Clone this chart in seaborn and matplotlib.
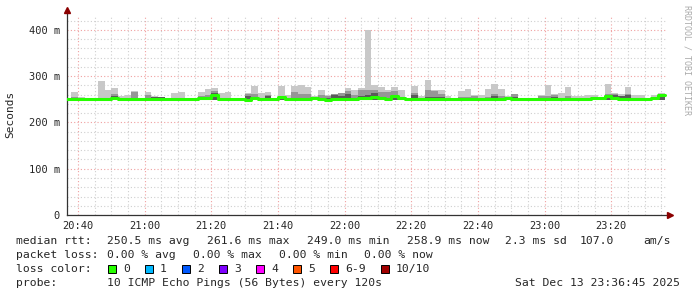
import numpy as np
import pandas as pd
import matplotlib
matplotlib.use("Agg")
import matplotlib.pyplot as plt
import matplotlib.dates as mdates
from matplotlib.patches import Rectangle
import seaborn as sns

# ---------------- data (ms) ----------------
bin_times = pd.date_range("2025-12-13 20:36", periods=90, freq="2min")
rtt_min = [249.0] * 90
rtt_max = [252, 266, 255, 251, 251, 290, 270, 275, 257, 260,
           268, 251, 266, 257, 256, 251, 264, 265, 251, 251,
           266, 272, 275, 264, 266, 254, 251, 263, 278, 264,
           265, 253, 278, 259, 278, 281, 277, 258, 271, 260,
           262, 264, 275, 271, 275, 400, 280, 276, 270, 277,
           270, 251, 279, 257, 291, 271, 271, 257, 254, 269,
           273, 259, 259, 272, 283, 272, 257, 262, 251, 253,
           253, 259, 281, 262, 263, 277, 257, 257, 259, 259,
           251, 283, 264, 261, 277, 260, 260, 251, 260, 263]
rtt_mid = [251, 255, 252, 250, 250, 252, 252, 262, 251, 252,
           267, 250, 259, 256, 255, 250, 252, 252, 250, 250,
           257, 260, 268, 253, 252, 251, 250, 261, 262, 252,
           260, 251, 258, 251, 265, 262, 261, 252, 260, 258,
           262, 264, 269, 260, 271, 270, 270, 267, 265, 268,
           255, 250, 264, 251, 270, 268, 262, 251, 251, 255,
           256, 258, 253, 256, 262, 258, 256, 262, 250, 251,
           251, 257, 258, 260, 253, 258, 251, 251, 252, 253,
           250, 262, 262, 256, 262, 253, 253, 250, 254, 262]
rtt_dark = [250, 251, 250, 250, 250, 250, 250, 257, 250, 250,
            252, 250, 252, 255, 255, 250, 250, 250, 250, 250,
            252, 252, 264, 250, 250, 250, 250, 257, 256, 250,
            257, 250, 256, 250, 254, 254, 253, 250, 252, 254,
            260, 258, 262, 254, 258, 259, 264, 256, 254, 260,
            252, 250, 260, 250, 256, 256, 256, 250, 250, 251,
            251, 252, 250, 252, 258, 254, 252, 256, 250, 250,
            250, 253, 252, 255, 251, 252, 250, 250, 251, 251,
            250, 257, 259, 258, 259, 251, 251, 250, 255, 258]
rtt_median = [250, 250, 250, 250, 250, 250, 250, 254, 250, 250,
              250, 250, 250, 250, 250, 250, 250, 250, 250, 251,
              253, 253, 259, 250, 250, 250, 250, 249, 254, 250,
              250, 250, 256, 250, 250, 250, 250, 252, 250, 249,
              250, 250, 250, 250, 253, 252, 256, 252, 250, 257,
              253, 250, 250, 250, 250, 250, 250, 250, 250, 250,
              250, 250, 250, 250, 250, 250, 252, 250, 250, 250,
              250, 250, 250, 250, 250, 250, 250, 250, 250, 252,
              252, 257, 253, 250, 250, 250, 250, 250, 252, 259]

y_ticks = [0, 100, 200, 300, 400]
y_tick_labels = ["0", "100 m", "200 m", "300 m", "400 m"]

legend_rows = [
    ("median rtt:", [(107, "250.5 ms avg"), (207, "261.6 ms max"), (307, "249.0 ms min"),
                     (407, "258.9 ms now"), (505, "2.3 ms sd"), (580, "107.0"), (643, "am/s")]),
    ("packet loss:", [(107, "0.00 % avg"), (193, "0.00 % max"), (279, "0.00 % min"),
                      (364, "0.00 % now")]),
    ("loss color:", []),
    ("probe:", [(107, "10 ICMP Echo Pings (56 Bytes) every 120s")]),
]
loss_labels = ["0", "1", "2", "3", "4", "5", "6-9", "10/10"]
loss_colors = ["#26ff00", "#00b8ff", "#0059ff", "#7e00ff", "#ff00ff", "#ff5500", "#ff0000", "#a10000"]
loss_box_x = [108, 145, 182, 219, 256, 293, 330, 381]
stamp = "Sat Dec 13 23:36:45 2025"

# ---------------- figure ----------------
sns.set_style("white")
plt.rcParams["font.family"] = ["DejaVu Sans Mono", "DejaVu Sans"]

W, H = 697, 297
fig = plt.figure(figsize=(W / 100, H / 100), dpi=100)
ax = fig.add_axes([67 / W, (H - 215) / H, 600 / W, 200 / H])
ax.set_facecolor("white")

df = pd.DataFrame({"time": bin_times, "min": rtt_min, "max": rtt_max,
                   "mid": rtt_mid, "dark": rtt_dark, "median": rtt_median})
width = 2 / 1440.0
for col, colr in [("max", "#c8c8c8"), ("mid", "#969696"), ("dark", "#5a5a5a")]:
    ax.bar(df["time"], df[col] - df["min"], bottom=df["min"], width=width,
           align="edge", color=colr, linewidth=0, zorder=2)

end_time = bin_times[-1] + pd.Timedelta(minutes=2)
line_df = pd.concat([df[["time", "median"]],
                     pd.DataFrame({"time": [end_time], "median": [rtt_median[-1]]})],
                    ignore_index=True)
sns.lineplot(data=line_df, x="time", y="median", drawstyle="steps-post",
             color=loss_colors[0], linewidth=2.2, estimator=None, ax=ax, zorder=3)

t0 = pd.Timestamp("2025-12-13 20:36:45")
ax.set_xlim(t0, t0 + pd.Timedelta(hours=3))
ax.set_ylim(0, 200 / 0.4625)
ax.set_xlabel("")
ax.set_ylabel("")

ax.xaxis.set_major_locator(mdates.MinuteLocator(byminute=[0, 20, 40]))
ax.xaxis.set_minor_locator(mdates.MinuteLocator(byminute=range(0, 60, 5)))
ax.xaxis.set_major_formatter(mdates.DateFormatter("%H:%M"))
ax.set_yticks(y_ticks)
ax.set_yticklabels(y_tick_labels)
ax.set_yticks(np.arange(0, 440, 20), minor=True)

ax.set_axisbelow(True)
ax.grid(which="minor", color="#cfcfcf", linestyle=(0, (1, 2)), linewidth=0.8)
ax.grid(which="major", color="#f0a0a0", linestyle=(0, (1, 2)), linewidth=0.8)

for s in ["top", "right"]:
    ax.spines[s].set_visible(False)
for s in ["left", "bottom"]:
    ax.spines[s].set_color("#333333")
    ax.spines[s].set_linewidth(0.9)
ax.spines["left"].set_bounds(0, 205 / 0.4625)
ax.spines["left"].set_clip_on(False)

ax.tick_params(axis="both", which="major", labelsize=7.5, length=2, color="#333333", pad=3)
ax.tick_params(axis="both", which="minor", length=1.5, color="#333333")
ax.tick_params(axis="x", which="both", length=0, pad=4)

# axis arrows
ax.plot([0], [1.025], marker="^", markersize=4, color="#8b0000", transform=ax.transAxes, clip_on=False, zorder=5)
ax.plot([1.005], [0], marker=">", markersize=4, color="#8b0000", transform=ax.transAxes, clip_on=False, zorder=5)

# texts
fig.text(10 / W, 1 - 114 / H, "Seconds", rotation=90, va="center", ha="center", fontsize=8)
fig.text(687 / W, 1 - 5 / H, "RRDTOOL / TOBI OETIKER", rotation=270, va="top", ha="center",
         fontsize=6.0, color="#aaaaaa")

row_y = [241, 255, 269, 283]
fs = 8.2
for (label, pieces), yy in zip(legend_rows, row_y):
    fy = 1 - yy / H
    fig.text(16 / W, fy, label, va="center", ha="left", fontsize=fs)
    for xx, txt in pieces:
        fig.text(xx / W, fy, txt, va="center", ha="left", fontsize=fs)

fy = 1 - 269 / H
for bx, lab, colr in zip(loss_box_x, loss_labels, loss_colors):
    fig.patches.append(Rectangle((bx / W, (H - 273) / H), 8 / W, 8 / H, transform=fig.transFigure,
                                 facecolor=colr, edgecolor="black", linewidth=0.7))
    fig.text((bx + 15) / W, fy, lab, va="center", ha="left", fontsize=fs)

fig.text(680 / W, 1 - 283 / H, stamp, va="center", ha="right", fontsize=fs)

fig.savefig("out.png", dpi=100)
